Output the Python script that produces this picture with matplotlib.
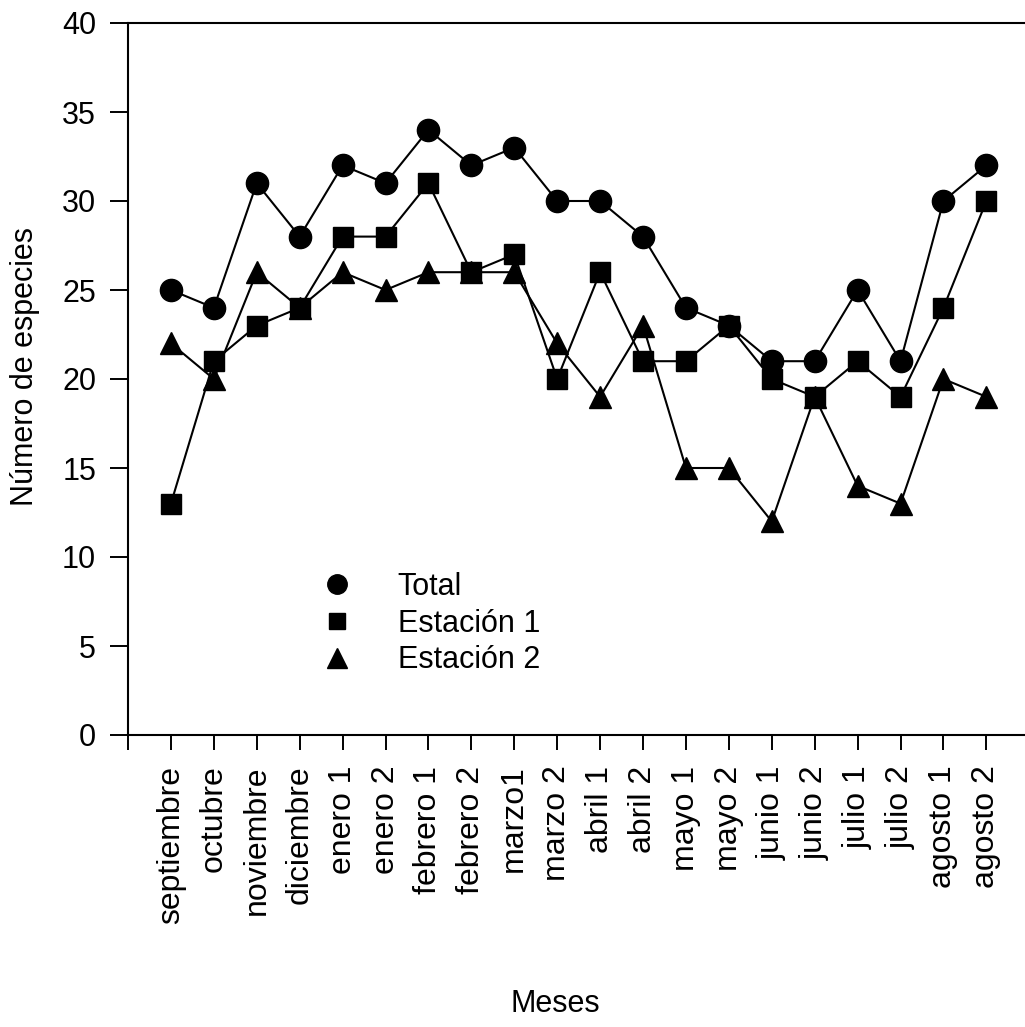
import matplotlib
matplotlib.use("Agg")
import matplotlib.pyplot as plt
from matplotlib.lines import Line2D

plt.rcParams['font.family'] = ['Liberation Sans', 'DejaVu Sans']

meses = ["septiembre", "octubre", "noviembre", "diciembre", "enero 1", "enero 2",
         "febrero 1", "febrero 2", "marzo1", "marzo 2", "abril 1", "abril 2",
         "mayo 1", "mayo 2", "junio 1", "junio 2", "julio 1", "julio 2",
         "agosto 1", "agosto 2"]
total = [25, 24, 31, 28, 32, 31, 34, 32, 33, 30, 30, 28, 24, 23, 21, 21, 25, 21, 30, 32]
estacion1 = [13, 21, 23, 24, 28, 28, 31, 26, 27, 20, 26, 21, 21, 23, 20, 19, 21, 19, 24, 30]
estacion2 = [22, 20, 26, 24, 26, 25, 26, 26, 26, 22, 19, 23, 15, 15, 12, 19, 14, 13, 20, 19]
yticks = [0, 5, 10, 15, 20, 25, 30, 35, 40]

W, H = 1025, 1027
fig = plt.figure(figsize=(W / 100, H / 100), dpi=100)
ax = fig.add_axes([128 / W, 1 - 735 / H, (1025 - 128) / W, (735 - 23) / H])

x = list(range(len(meses)))
lw = 1.5
ax.plot(x, estacion2, color='black', lw=lw, marker='^', markersize=16, zorder=3)
ax.plot(x, estacion1, color='black', lw=lw, marker='s', markersize=14, zorder=4)
ax.plot(x, total, color='black', lw=lw, marker='o', markersize=16, zorder=5)

ax.set_xlim(-1, 19.9)
ax.set_ylim(0, 40)
ax.set_yticks(yticks)
ax.set_xticks([-1] + x)
ax.set_xticklabels([""] + meses, rotation=90, fontsize=23)
ax.tick_params(axis='y', direction='out', length=13, width=1.4, labelsize=22, pad=10)
ax.tick_params(axis='x', direction='out', length=11, width=1.4, pad=11)

ax.spines['right'].set_visible(False)
for s in ['left', 'top', 'bottom']:
    ax.spines[s].set_linewidth(1.5)

ax.set_ylabel("Número de especies", fontsize=22, va='center')
ax.yaxis.set_label_coords(-0.115, 0.518)
ax.set_xlabel("Meses", fontsize=22, va='center')
ax.xaxis.set_label_coords(0.476, -0.378)

handles = [
    Line2D([], [], color='black', lw=0, marker='o', markersize=14),
    Line2D([], [], color='black', lw=0, marker='s', markersize=12),
    Line2D([], [], color='black', lw=0, marker='^', markersize=15),
]
ax.legend(handles, ["Total", "Estación 1", "Estación 2"], loc='upper left',
          bbox_to_anchor=((306 - 128) / 897, (735 - 572) / 712), frameon=False,
          fontsize=22, borderpad=0, borderaxespad=0, handletextpad=1.0,
          labelspacing=0.22, handlelength=2.0)

fig.savefig("out.png", dpi=100)
